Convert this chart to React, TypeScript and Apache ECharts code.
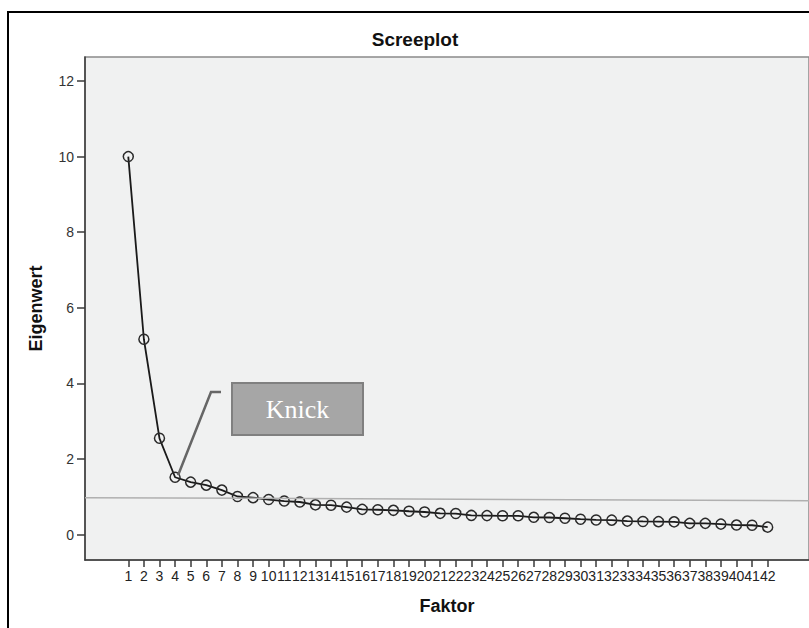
import React, { useEffect, useRef } from "react";
import * as echarts from "echarts";

const factors: number[] = Array.from({ length: 42 }, (_, i) => i + 1);
const eigenvalues: number[] = [
  10.0, 5.17, 2.55, 1.52, 1.39, 1.31, 1.18, 1.01, 0.98, 0.93,
  0.89, 0.865, 0.79, 0.78, 0.73, 0.67, 0.66, 0.645, 0.62, 0.6,
  0.565, 0.56, 0.51, 0.505, 0.5, 0.5, 0.46, 0.455, 0.435, 0.41,
  0.39, 0.385, 0.36, 0.35, 0.345, 0.34, 0.3, 0.3, 0.28, 0.255,
  0.25, 0.2,
];
const yTicks: number[] = [0, 2, 4, 6, 8, 10, 12];
const titleText = "Screeplot";
const xName = "Faktor";
const yName = "Eigenwert";
const annotationText = "Knick";
const kneeFactor = 4;
const refLineStart = 0.98;
const refLineEnd = 0.9;

const X_MIN = -1.776;
const X_MAX = 44.65;
const Y_MIN = -0.669;
const Y_MAX = 12.635;

const FONT = "'Liberation Sans', Arial, Helvetica, sans-serif";

export default function App() {
  const ref = useRef<HTMLDivElement | null>(null);

  useEffect(() => {
    if (!ref.current) return;
    const chart = echarts.init(ref.current, null, { renderer: "svg" });
    const option: any = {
      animation: false,
      backgroundColor: "#ffffff",
      title: {
        text: titleText,
        left: 415,
        top: 30,
        textAlign: "center",
        padding: 0,
        textStyle: { fontFamily: FONT, fontSize: 19, fontWeight: "bold", color: "#111" },
      },
      grid: {
        left: 85,
        top: 57,
        right: 0,
        bottom: 68,
        show: true,
        backgroundColor: "#f0f1f1",
        borderColor: "#8a8a8a",
        borderWidth: 1.5,
        containLabel: false,
      },
      xAxis: {
        type: "value",
        min: X_MIN,
        max: X_MAX,
        name: xName,
        nameLocation: "middle",
        nameGap: 37,
        nameTextStyle: { fontFamily: FONT, fontSize: 18, fontWeight: "bold", color: "#111" },
        axisLine: { show: true, onZero: false, lineStyle: { color: "#3a3a3a", width: 1.5 } },
        axisTick: {
          show: true,
          length: 7,
          customValues: factors,
          lineStyle: { color: "#3a3a3a", width: 1.5 },
        },
        axisLabel: {
          customValues: factors,
          margin: 9,
          fontFamily: FONT,
          fontSize: 14,
          color: "#222",
          hideOverlap: false,
        },
        splitLine: { show: false },
      },
      yAxis: {
        type: "value",
        min: Y_MIN,
        max: Y_MAX,
        name: yName,
        nameLocation: "middle",
        nameGap: 40,
        nameTextStyle: { fontFamily: FONT, fontSize: 18, fontWeight: "bold", color: "#111" },
        axisLine: { show: true, onZero: false, lineStyle: { color: "#3a3a3a", width: 1.5 } },
        axisTick: {
          show: true,
          length: 8,
          customValues: yTicks,
          lineStyle: { color: "#3a3a3a", width: 1.5 },
        },
        axisLabel: {
          customValues: yTicks,
          margin: 11,
          fontFamily: FONT,
          fontSize: 14,
          color: "#333",
        },
        splitLine: { show: false },
      },
      series: [
        {
          type: "line",
          data: factors.map((f, i) => [f, eigenvalues[i]]),
          symbol: "circle",
          symbolSize: 10,
          lineStyle: { color: "#1a1a1a", width: 1.8 },
          itemStyle: { color: "rgba(0,0,0,0)", borderColor: "#2a2a2a", borderWidth: 1.5 },
          z: 3,
          markLine: {
            silent: true,
            symbol: "none",
            label: { show: false },
            lineStyle: { color: "#b0b0b0", width: 1.5, type: "solid" },
            data: [
              [
                { coord: [X_MIN, refLineStart] },
                { coord: [X_MAX, refLineEnd] },
              ],
            ],
          },
        },
      ],
    };
    chart.setOption(option);

    const kneeIdx = factors.indexOf(kneeFactor);
    const p = chart.convertToPixel({ gridIndex: 0 }, [kneeFactor, eigenvalues[kneeIdx]]) as number[];
    const sx = p[0] + 3;
    const sy = p[1] - 2;
    chart.setOption({
      graphic: [
        {
          type: "rect",
          shape: { x: 8, y: 12, width: 1000, height: 800 },
          style: { fill: "none", stroke: "#000", lineWidth: 2 },
          silent: true,
          z: 10,
        },
        {
          type: "polyline",
          shape: { points: [[sx, sy], [211, 392], [221, 392]] },
          style: { fill: "none", stroke: "#666", lineWidth: 2.5 },
          silent: true,
          z: 10,
        },
        {
          type: "rect",
          shape: { x: 232, y: 383, width: 131, height: 52 },
          style: { fill: "#a6a6a6", stroke: "#808080", lineWidth: 2 },
          silent: true,
          z: 10,
        },
        {
          type: "text",
          x: 297.5,
          y: 409,
          style: {
            text: annotationText,
            fill: "#ffffff",
            font: "26px 'Liberation Serif', 'Times New Roman', serif",
            textAlign: "center",
            textVerticalAlign: "middle",
          },
          silent: true,
          z: 11,
        },
      ],
    });

    return () => chart.dispose();
  }, []);

  return (
    <div
      ref={ref}
      style={{ position: "fixed", left: 0, top: 0, width: 809, height: 628 }}
    />
  );
}
